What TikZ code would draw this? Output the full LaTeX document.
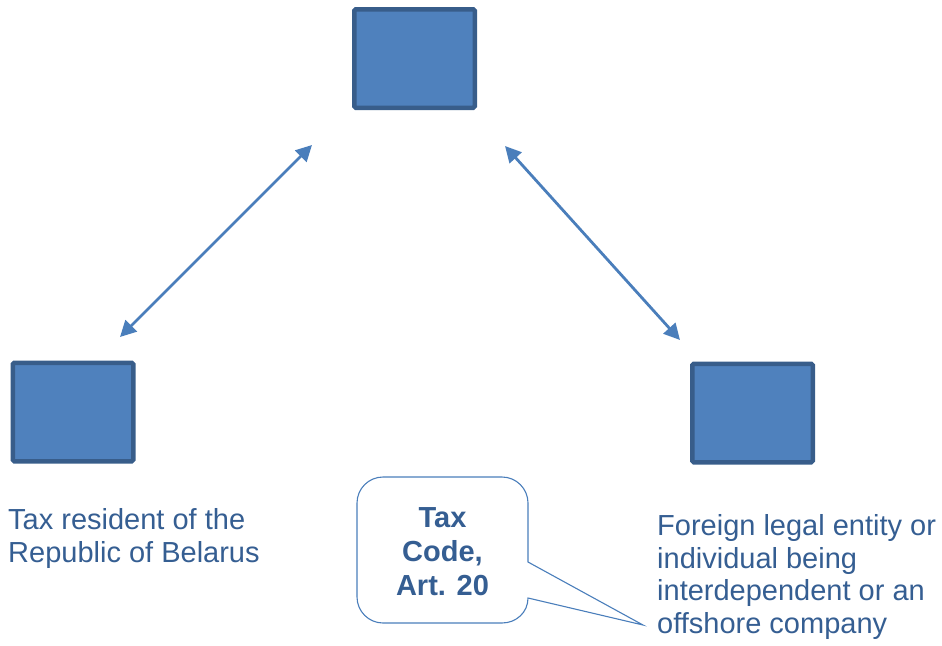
\documentclass[tikz,border=0pt]{standalone}
\usepackage{fontspec}
\setmainfont{Liberation Sans}
\usetikzlibrary{arrows.meta}
\definecolor{boxfill}{HTML}{4F81BD}
\definecolor{boxline}{HTML}{385D8A}
\definecolor{arrowcol}{HTML}{4A7EBB}
\definecolor{textcol}{HTML}{355E92}
\tikzset{
  entity/.style={draw=boxline, fill=boxfill, line width=4.5pt, rounded corners=1.5pt,
    minimum width=120.5pt, minimum height=98.5pt, inner sep=0pt},
  link/.style={draw=arrowcol, line width=2.8pt, {Triangle[length=16pt,width=16pt]}-{Triangle[length=16pt,width=16pt]}},
  label/.style={text=textcol, font=\fontsize{29pt}{32.5pt}\selectfont, align=left, inner sep=0pt},
  callout/.style={draw=arrowcol, line width=1.1pt, fill=white},
  callouttext/.style={text=textcol, font=\fontsize{29pt}{34pt}\selectfont\bfseries, align=center, inner sep=0pt}
}
\begin{document}
\begin{tikzpicture}[x=1pt,y=-1pt]
\useasboundingbox (0,0) rectangle (942,645);
% boxes
\node[entity] (top) at (414.5,58.5) {};
\node[entity] (left) at (73,412) {};
\node[entity] (right) at (752.5,413) {};
% arrow ends
\coordinate (l1) at (120,337);
\coordinate (l2) at (312,145);
\coordinate (r1) at (505,146);
\coordinate (r2) at (680,340);
\draw[link] (l1) -- (l2);
\draw[link] (r1) -- (r2);
% labels (base anchor = baseline of last line)
\node[label, anchor=base west] (ltext) at (8,562) {Tax resident of the\\Republic of Belarus};
\node[label, anchor=base west] (rtext) at (657,633) {Foreign legal entity or\\individual being\\interdependent or an\\offshore company};
% callout
\coordinate (tip) at (643,625);
\draw[callout] (383,477) -- (502,477) .. controls (516.3,477) and (528,488.7) .. (528,503) -- (528,562) -- (tip) -- (528,598)
  .. controls (528,612.3) and (516.3,623) .. (502,623) -- (383,623) .. controls (368.7,623) and (357,611.3) .. (357,597) -- (357,503)
  .. controls (357,488.7) and (368.7,477) .. (383,477) -- cycle;
\node[callouttext, anchor=base] (ctext) at (442.5,595) {Tax\\Code,\\Art. 20};
\end{tikzpicture}
\end{document}
